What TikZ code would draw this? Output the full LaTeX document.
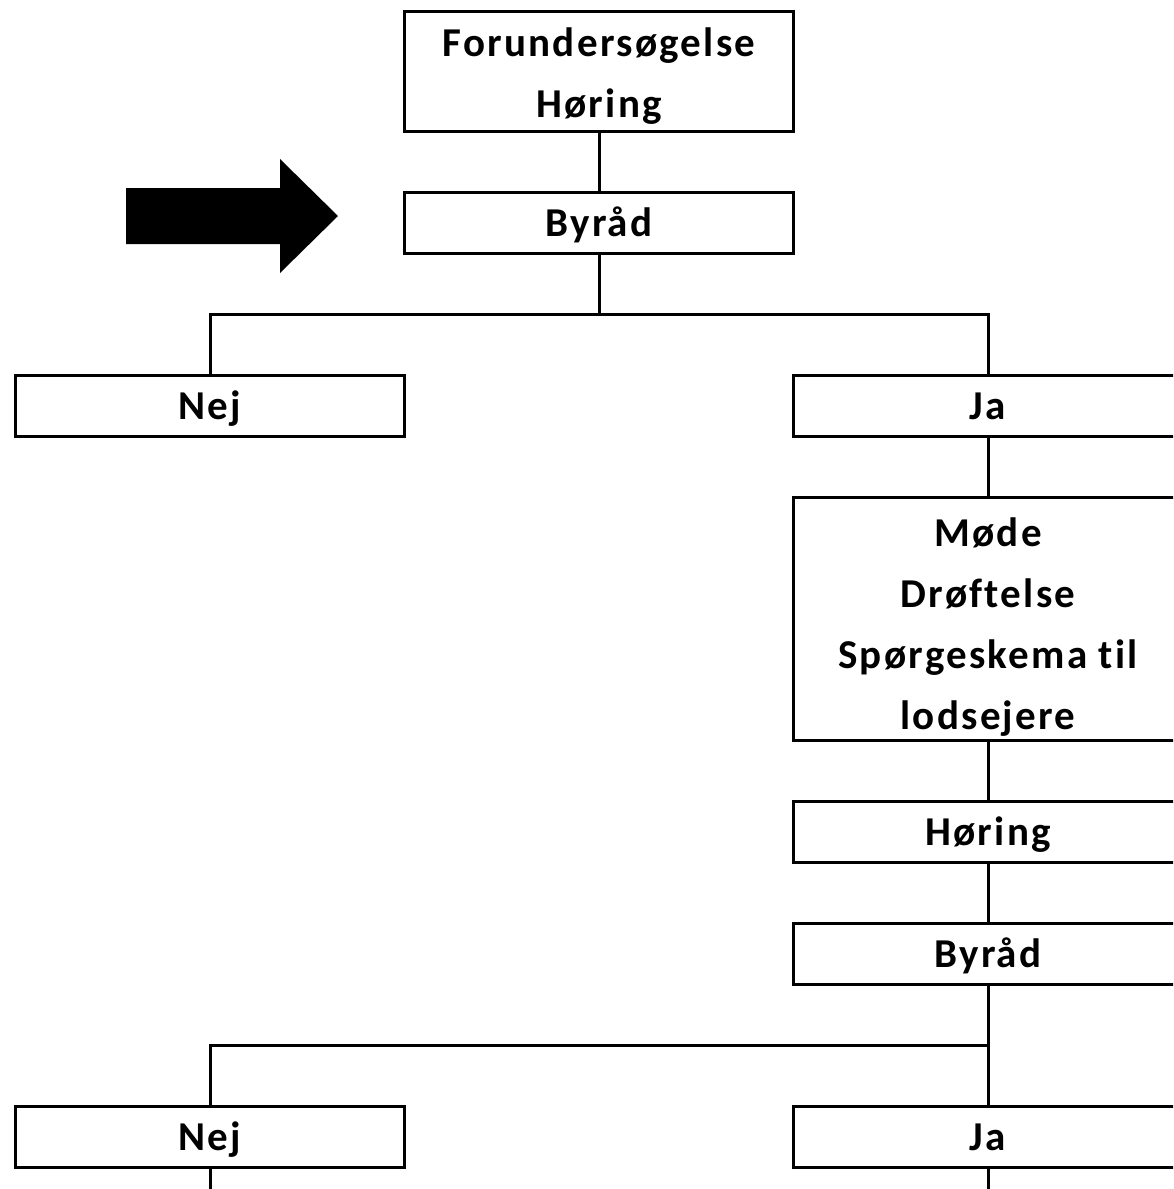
\documentclass[tikz,border=0pt]{standalone}
\usepackage{fontspec}
\setmainfont{Carlito}[Ligatures=NoCommon, LetterSpace=5.5]
\usetikzlibrary{positioning}
% extra room above the first line of a box with several lines
\newcommand{\topgap}[1]{\rule{0pt}{#1}}
\tikzset {
  % boxes of the flow chart
  box/.style = {
    draw = black,
    line width = 3pt,
    rectangle,
    minimum width = 389pt,
    minimum height = 61pt,
    inner sep = 0pt,
    outer sep = 0pt,
    align = center,
    font = \bfseries\fontsize{41}{61}\selectfont
  },
  % one line of text
  line box/.style = {
    box,
    text height = 28pt,
    text depth = 0pt
  },
  % plain connector
  link/.style = {
    draw = black,
    line width = 3pt
  },
  node distance = 61pt
}

\begin{document}
\begin{tikzpicture}
    \useasboundingbox (0pt,0pt) rectangle (1173pt,-1189pt);
    \clip (0pt,0pt) rectangle (1173pt,-1189pt);

    \node[box, minimum height=120pt] (forund) at (599pt,-71pt)
      {\topgap{39pt}Forundersøgelse\\Høring};
    \node[line box] (byraad) [below=of forund] {Byråd};
    \coordinate [below=of byraad] (byraad-split);
    \node[line box] (nej) [below=of byraad-split, xshift=-389pt] {Nej};
    \node[line box] (ja) [below=of byraad-split, xshift=389pt] {Ja};
    \node[box, minimum height=243pt] (moede) [below=of ja]
      {\topgap{45pt}Møde\\Drøftelse\\Spørgeskema til\\lodsejere};
    \node[line box] (hoering) [below=of moede] {Høring};
    \node[line box] (byraad2) [below=of hoering] {Byråd};
    \coordinate [below=of byraad2] (byraad2-split);
    \node[line box] (nej2) [below=of byraad2-split, xshift=-778pt] {Nej};
    \node[line box] (ja2) [below=of byraad2-split] {Ja};
    \coordinate [below=of nej2] (nej2-end);
    \coordinate [below=of ja2] (ja2-end);

    % big arrow pointing at the first council decision
    \fill (126pt,-188pt) -- (280pt,-188pt) -- (280pt,-159pt) -- (338pt,-216pt)
      -- (280pt,-273pt) -- (280pt,-244pt) -- (126pt,-244pt) -- cycle;

    \draw[link] (forund) -- (byraad) -- (byraad-split);
    \draw[link] (nej) |- (byraad-split) -| (ja);
    \draw[link] (ja) -- (moede) -- (hoering) -- (byraad2) -- (ja2);
    \draw[link] (byraad2-split) -| (nej2);
    \draw[link] (nej2) -- (nej2-end);
    \draw[link] (ja2) -- (ja2-end);
\end{tikzpicture}
\end{document}
